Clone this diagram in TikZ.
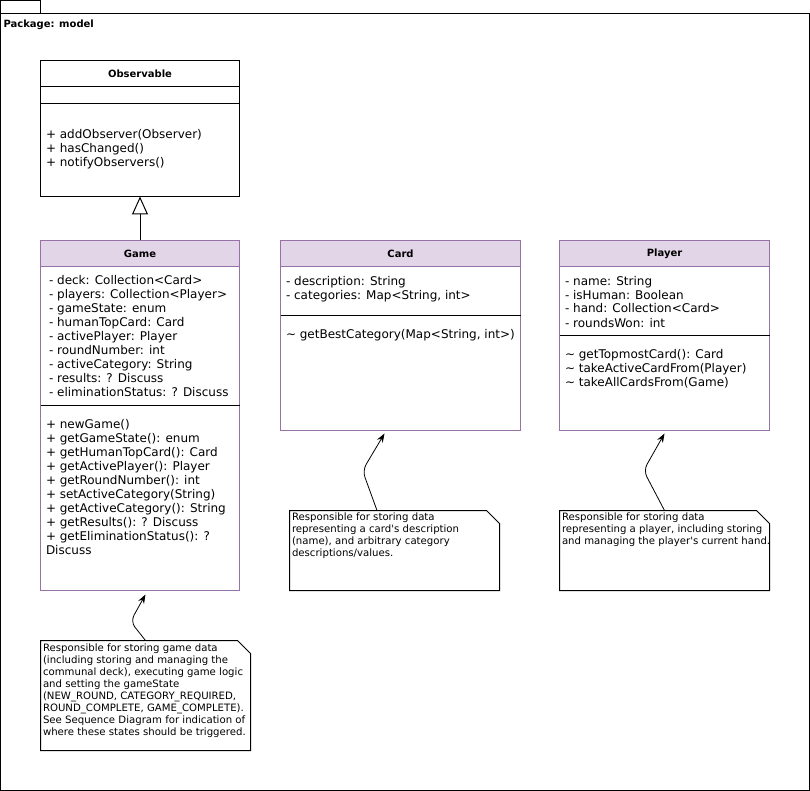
\documentclass[tikz,border=0pt]{standalone}
\usepackage{fontspec}
\setmainfont{DejaVu Sans}
\usetikzlibrary{arrows.meta}
\definecolor{umlfill}{HTML}{E1D5E7}
\definecolor{umlstroke}{HTML}{9673A6}
\begin{document}
\begin{tikzpicture}[x=1pt,y=-1pt,line width=1pt,
  plainbox/.style={draw=black,fill=white,rectangle,inner sep=0pt,outer sep=0pt,anchor=north west},
  clsbox/.style={draw=umlstroke,fill=white,rectangle,inner sep=0pt,outer sep=0pt,anchor=north west},
  clstitle/.style={rectangle,inner sep=0pt,outer sep=0pt,anchor=north west,minimum height=26pt,font=\fontsize{10}{12}\selectfont\bfseries},
  purpletitle/.style={clstitle,draw=umlstroke,fill=umlfill},
  blacktitle/.style={clstitle,draw=black,fill=white},
  items/.style={inner sep=0pt,outer sep=0pt,anchor=north west,align=left,font=\fontsize{12}{14}\selectfont},
  notetext/.style={inner sep=0pt,outer sep=0pt,anchor=north west,align=left,font=\fontsize{10.15}{12}\selectfont},
  noteframe/.style={rectangle,inner sep=0pt,outer sep=0pt,anchor=north west,draw=none},
  conn/.style={draw=black,line width=0.8pt,rounded corners=7pt,-{Stealth[length=9pt,width=6.5pt]}},
  sep/.style={draw=black,line width=1pt}
]
\useasboundingbox (0,0) rectangle (810,791);

% package
\node[plainbox,minimum width=40pt,minimum height=14pt] (tab) at (0.5,0.5) {};
\node[plainbox,minimum width=808.5pt,minimum height=776pt] (pkg) at (0.5,14) {};
\node[inner sep=0pt,anchor=base west,font=\fontsize{10}{12}\selectfont\bfseries] (pkglabel) at (3,27.5) {Package: model};

% Observable
\node[plainbox,minimum width=199pt,minimum height=136pt] (obs) at (40.5,60.5) {};
\node[blacktitle,minimum width=199pt] (obstitle) at (40.5,60.5) {Observable};
\draw[sep] (40.5,103.5) -- (239.5,103.5);
\node[items] (obsm) at (46,128.8) {\strut+ addObserver(Observer)\\+ hasChanged()\\+ notifyObservers()};

% Game
\node[clsbox,minimum width=199pt,minimum height=350pt] (game) at (40.5,240.5) {};
\node[purpletitle,minimum width=199pt] (gametitle) at (40.5,240.5) {Game};
\draw[sep] (40.5,405.5) -- (239.5,405.5);
\node[items] (gamea) at (49,274.8) {\strut- deck: Collection<Card>\\- players: Collection<Player>\\- gameState: enum\\- humanTopCard: Card\\- activePlayer: Player\\- roundNumber: int\\- activeCategory: String\\- results: ? Discuss\\- eliminationStatus: ? Discuss};
\node[items] (gamem) at (46,418.2) {\strut+ newGame()\\+ getGameState(): enum\\+ getHumanTopCard(): Card\\+ getActivePlayer(): Player\\+ getRoundNumber(): int\\+ setActiveCategory(String)\\+ getActiveCategory(): String\\+ getResults(): ? Discuss\\+ getEliminationStatus(): ?\\Discuss};

% Card
\node[clsbox,minimum width=240pt,minimum height=190pt] (card) at (280.5,240.5) {};
\node[purpletitle,minimum width=240pt] (cardtitle) at (280.5,240.5) {Card};
\draw[sep] (280.5,315.5) -- (520.5,315.5);
\node[items] (carda) at (286,275.2) {\strut- description: String\\- categories: Map<String, int>};
\node[items] (cardm) at (286,328.2) {\strut\textasciitilde{} getBestCategory(Map<String, int>)};

% Player
\node[clsbox,minimum width=210pt,minimum height=190pt] (player) at (559.5,240.5) {};
\node[purpletitle,minimum width=210pt] (playertitle) at (559.5,240.5) {Player};
\draw[sep] (559.5,335.5) -- (769.5,335.5);
\node[items] (playera) at (565,275.2) {\strut- name: String\\- isHuman: Boolean\\- hand: Collection<Card>\\- roundsWon: int};
\node[items] (playerm) at (565,348.2) {\strut\textasciitilde{} getTopmostCard(): Card\\\textasciitilde{} takeActiveCardFrom(Player)\\\textasciitilde{} takeAllCardsFrom(Game)};

% inheritance
\draw[-{Triangle[open,length=18pt,width=16pt]},line width=1pt] (game.north) -- (obs.south);

% notes
\node[noteframe,minimum width=210pt,minimum height=110pt] (gnote) at (40.5,640.5) {};
\draw[fill=white] (gnote.north west) -- ([xshift=-13pt]gnote.north east) -- ([yshift=-13pt]gnote.north east) -- (gnote.south east) -- (gnote.south west) -- cycle;
\node[notetext] (gnotet) at (43,643.3) {\strut Responsible for storing game data\\(including storing and managing the\\communal deck), executing game logic\\and setting the gameState\\(NEW\_ROUND, CATEGORY\_REQUIRED,\\ROUND\_COMPLETE, GAME\_COMPLETE).\\See Sequence Diagram for indication of\\where these states should be triggered.};

\node[noteframe,minimum width=210pt,minimum height=80pt] (cnote) at (289.5,510.5) {};
\draw[fill=white] (cnote.north west) -- ([xshift=-13pt]cnote.north east) -- ([yshift=-13pt]cnote.north east) -- (cnote.south east) -- (cnote.south west) -- cycle;
\node[notetext] (cnotet) at (292,512.3) {\strut Responsible for storing data\\representing a card\textquotesingle s description\\(name), and arbitrary category\\descriptions/values.};

\node[noteframe,minimum width=210pt,minimum height=80pt] (pnote) at (559.5,510.5) {};
\draw[fill=white] (pnote.north west) -- ([xshift=-13pt]pnote.north east) -- ([yshift=-13pt]pnote.north east) -- (pnote.south east) -- (pnote.south west) -- cycle;
\node[notetext] (pnotet) at (562,512.3) {\strut Responsible for storing data\\representing a player, including storing\\and managing the player\textquotesingle s current hand.};

% note connectors
\draw[conn] (gnote.north) -- ([xshift=-15pt,yshift=19pt]gnote.north) -- ([yshift=-4pt]gnote.north |- game.south);
\draw[conn] ([xshift=-17.5pt]cnote.north) -- ([xshift=-32pt,yshift=40pt]cnote.north) -- ([xshift=-16pt,yshift=-3pt]card.south);
\draw[conn] (pnote.north) -- ([xshift=-21pt,yshift=40pt]pnote.north) -- ([xshift=0pt,yshift=-3pt]player.south);
\end{tikzpicture}
\end{document}
